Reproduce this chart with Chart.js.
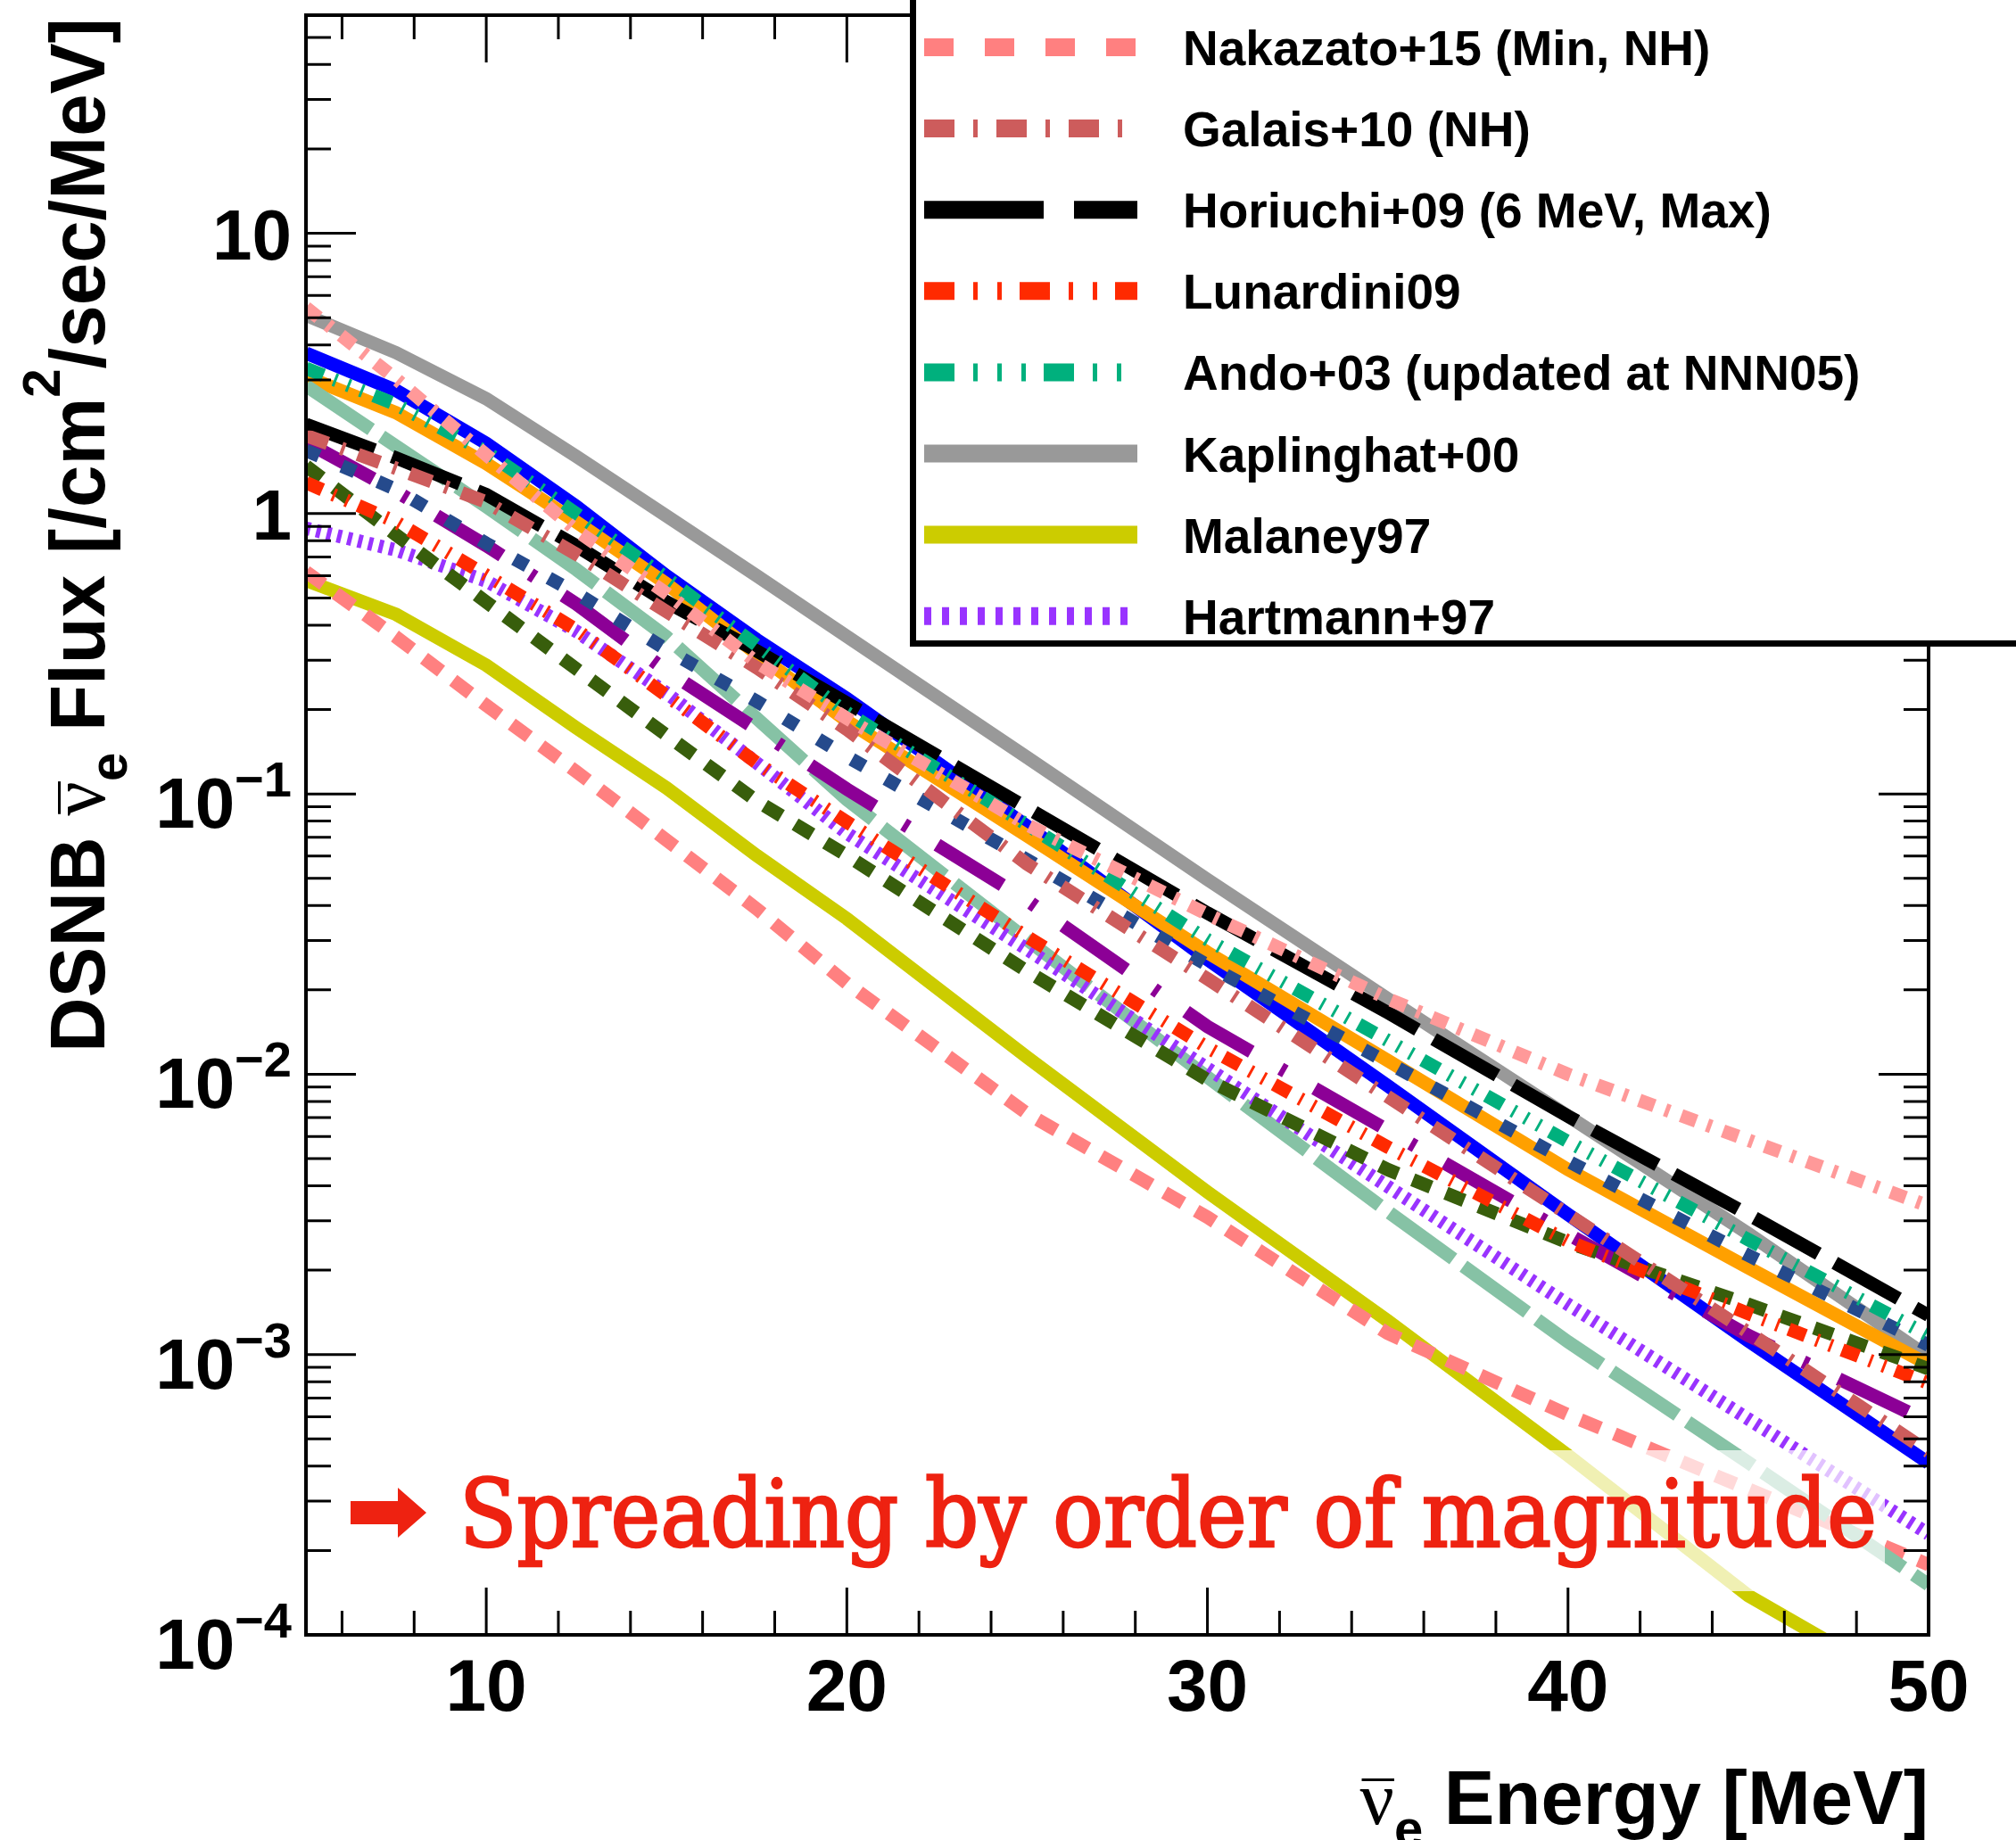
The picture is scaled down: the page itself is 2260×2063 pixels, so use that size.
<!DOCTYPE html>
<html>
<head>
<meta charset="utf-8">
<script src="https://cdn.jsdelivr.net/npm/chart.js@4.4.0/dist/chart.umd.min.js"></script>
<style>
  html, body { margin: 0; padding: 0; background: #fff; }
  canvas { display: block; }
</style>
</head>
<body>
<canvas id="dsnb-chart" width="2260" height="2063"></canvas>
<script>
const energy = [5, 7.5, 10, 12.5, 15, 17.5, 20, 25, 30, 35, 40, 45, 50]

// flux [/cm2/sec/MeV]
const nakazatoMin = [0.62, 0.363, 0.207, 0.12, 0.0684, 0.0389, 0.0211, 0.00724, 0.00309, 0.00119, 0.00061, 0.000331, 0.000178]
const galais = [1.9, 1.45, 1.1, 0.716, 0.447, 0.282, 0.17, 0.0562, 0.0219, 0.00832, 0.00316, 0.0012, 0.00045]
const horiuchi = [2.08, 1.58, 1.17, 0.767, 0.484, 0.324, 0.211, 0.0891, 0.0376, 0.0166, 0.00708, 0.00316, 0.00138]
const lunardini = [1.29, 0.933, 0.603, 0.385, 0.224, 0.129, 0.0794, 0.0309, 0.01245, 0.0055, 0.00254, 0.0014, 0.00079]
const ando = [3.3, 2.45, 1.66, 1.0, 0.589, 0.339, 0.195, 0.0776, 0.0302, 0.0132, 0.00575, 0.00257, 0.00117]
const kaplinghat = [5.1, 3.75, 2.57, 1.6, 0.98, 0.6, 0.365, 0.135, 0.0495, 0.0186, 0.0071, 0.0027, 0.00098]
const malaney = [0.578, 0.437, 0.288, 0.172, 0.105, 0.0603, 0.0359, 0.0115, 0.0038, 0.00132, 0.000437, 0.000138, 0.0000589]
const hartmann = [0.887, 0.741, 0.575, 0.38, 0.229, 0.129, 0.0724, 0.0279, 0.0105, 0.00398, 0.00151, 0.000589, 0.000229]
// curves that are in the plot but not in the visible part of the legend
const otherBlue = [3.74, 2.75, 1.78, 1.06, 0.6, 0.355, 0.219, 0.0767, 0.0257, 0.0091, 0.00316, 0.00112, 0.00041]
const otherOrange = [3.08, 2.29, 1.51, 0.933, 0.562, 0.316, 0.182, 0.0708, 0.0272, 0.0112, 0.00457, 0.00204, 0.00092]
const otherTeal = [2.86, 1.74, 1.06, 0.631, 0.363, 0.186, 0.0955, 0.0302, 0.00977, 0.00324, 0.00111, 0.000412, 0.000151]
const otherPurple = [1.8, 1.2, 0.769, 0.476, 0.275, 0.17, 0.104, 0.0417, 0.0148, 0.00631, 0.00269, 0.00117, 0.000575]
const otherDarkBlue = [1.68, 1.22, 0.783, 0.52, 0.327, 0.214, 0.136, 0.0582, 0.0245, 0.011, 0.0049, 0.00226, 0.00108]
const otherDarkGreen = [1.48, 0.839, 0.484, 0.279, 0.162, 0.0944, 0.0603, 0.0233, 0.00955, 0.00457, 0.00251, 0.00151, 0.00089]
const otherPink = [5.43, 3.02, 1.62, 0.871, 0.519, 0.295, 0.186, 0.0776, 0.0372, 0.0186, 0.01, 0.00582, 0.00339]

const xMajorTicks = [10, 20, 30, 40, 50]
const yExponents = [-4, -3, -2, -1, 0, 1]

const legendNames = ['Nakazato+15 (Min, NH)', 'Galais+10 (NH)', 'Horiuchi+09 (6 MeV, Max)', 'Lunardini09',
  'Ando+03 (updated at NNN05)', 'Kaplinghat+00', 'Malaney97', 'Hartmann+97']
const legendColors = ['#FF8080', '#CD5C5C', '#000000', '#FF2A00', '#00B07D', '#999999', '#CCCC00', '#9933FF']
const legendDashes = [[33, 35], [34, 21, 5, 21], [134, 34], [34, 21, 5, 22, 5, 20],
  [34, 21, 5, 22, 5, 22, 5, 20], [], [], [8, 12]]

const SANS = '"Liberation Sans", Arial, Helvetica, sans-serif'
const SERIF = '"Liberation Serif", "Times New Roman", serif'

// first one is drawn on top
const curves = [
  { label: 'other (light pink)', y: otherPink, color: '#FF9999', dash: [18, 13, 5, 14] },
  { label: legendNames[1], y: galais, color: legendColors[1], dash: [26, 16, 4, 16] },
  { label: legendNames[4], y: ando, color: legendColors[4], dash: [21, 13, 3, 13, 3, 13, 3, 13] },
  { label: legendNames[3], y: lunardini, color: legendColors[3], dash: [20, 13, 3, 13, 3, 12] },
  { label: 'other (dark green)', y: otherDarkGreen, color: '#385E0C', dash: [22, 18] },
  { label: 'other (dark blue)', y: otherDarkBlue, color: '#254A8C', dash: [16, 28] },
  { label: legendNames[2], y: horiuchi, color: legendColors[2], dash: [82, 21] },
  { label: 'other (purple)', y: otherPurple, color: '#8C0096', dash: [86, 38, 6, 38] },
  { label: legendNames[7], y: hartmann, color: legendColors[7], dash: [5, 7] },
  { label: 'other (teal)', y: otherTeal, color: '#86C2A5', dash: [88, 14] },
  { label: 'other (orange)', y: otherOrange, color: '#FFA000', dash: [] },
  { label: 'other (blue)', y: otherBlue, color: '#0000FF', dash: [] },
  { label: legendNames[0], y: nakazatoMin, color: legendColors[0], dash: [24, 17] },
  { label: legendNames[6], y: malaney, color: legendColors[6], dash: [] },
  { label: legendNames[5], y: kaplinghat, color: legendColors[5], dash: [] },
]

function partsWidth(ctx, parts) {
  let w = 0
  parts.forEach(p => { ctx.font = p.font; w += ctx.measureText(p.text).width })
  return w
}

function drawParts(ctx, parts, x, y) {
  parts.forEach(p => {
    ctx.font = p.font
    const w = ctx.measureText(p.text).width
    ctx.fillText(p.text, x, y + (p.dy || 0))
    if (p.over) ctx.fillRect(x + 2, y - p.over, w - 2, 3)
    x += w
  })
}

const decor = {
  id: 'decor',
  afterDatasetsDraw(chart) {
    const ctx = chart.ctx
    const xs = chart.scales.x
    const ys = chart.scales.y
    const a = chart.chartArea
    ctx.save()

    // faded box behind the note
    ctx.fillStyle = 'rgba(255,255,255,0.7)'
    ctx.fillRect(380, 1626, 2113 - 380, 1784 - 1626)
    ctx.fillStyle = '#EE2211'
    ctx.beginPath()
    ctx.moveTo(393, 1683); ctx.lineTo(446, 1683); ctx.lineTo(446, 1668); ctx.lineTo(478, 1696)
    ctx.lineTo(446, 1724); ctx.lineTo(446, 1709); ctx.lineTo(393, 1709); ctx.closePath()
    ctx.fill()
    const note = 'Spreading by order of magnitude'
    ctx.font = '104px "DejaVu Serif Condensed", "DejaVu Serif", serif'
    const nw = ctx.measureText(note).width
    ctx.save()
    ctx.translate(515, 1734)
    ctx.scale(1589 / nw, 1)
    ctx.textAlign = 'left'
    ctx.textBaseline = 'alphabetic'
    ctx.strokeStyle = '#EE2211'
    ctx.lineWidth = 2.5
    ctx.fillText(note, 0, 0)
    ctx.strokeText(note, 0, 0)
    ctx.restore()

    // ticks, inside the frame on all four sides
    ctx.strokeStyle = '#000'
    ctx.lineWidth = 3
    ctx.setLineDash([])
    ctx.beginPath()
    for (let v = 6; v <= 50; v += 2) {
      const px = xs.getPixelForValue(v)
      const len = xMajorTicks.includes(v) ? 53 : 27
      ctx.moveTo(px, a.bottom); ctx.lineTo(px, a.bottom - len)
      ctx.moveTo(px, a.top); ctx.lineTo(px, a.top + len)
    }
    for (let e = -4; e <= 1; e++) {
      for (let k = 1; k <= 9; k++) {
        const v = k * Math.pow(10, e)
        if (v > ys.max) break
        const py = ys.getPixelForValue(v)
        const len = k === 1 ? 56 : 28
        ctx.moveTo(a.left, py); ctx.lineTo(a.left + len, py)
        ctx.moveTo(a.right, py); ctx.lineTo(a.right - len, py)
      }
    }
    ctx.stroke()

    // frame
    ctx.lineWidth = 4
    ctx.strokeRect(a.left, a.top, a.right - a.left, a.bottom - a.top)

    // tick labels
    ctx.fillStyle = '#000'
    ctx.textBaseline = 'alphabetic'
    ctx.textAlign = 'center'
    ctx.font = `bold 82px ${SANS}`
    xMajorTicks.forEach(v => ctx.fillText(String(v), xs.getPixelForValue(v), 1918))
    ctx.textAlign = 'left'
    yExponents.forEach(e => {
      const py = ys.getPixelForValue(Math.pow(10, e))
      let parts
      if (e === 0) parts = [{ text: '1', font: `bold 80px ${SANS}`, dy: 29 }]
      else if (e === 1) parts = [{ text: '10', font: `bold 80px ${SANS}`, dy: 29 }]
      else parts = [{ text: '10', font: `bold 80px ${SANS}`, dy: 38 },
        { text: '\u2212' + (-e), font: `bold 56px ${SANS}`, dy: 3 }]
      drawParts(ctx, parts, 327 - partsWidth(ctx, parts), py)
    })

    // axis titles
    const xTitle = [
      { text: '\u03bd', font: `85px ${SERIF}`, over: 51 },
      { text: 'e', font: `bold 58px ${SANS}`, dy: 25 },
      { text: ' Energy [MeV]', font: `bold 85px ${SANS}` },
    ]
    drawParts(ctx, xTitle, 2162 - partsWidth(ctx, xTitle), 2045)

    const yTitle = [
      { text: 'DSNB ', font: `bold 88px ${SANS}` },
      { text: '\u03bd', font: `88px ${SERIF}`, over: 52 },
      { text: 'e', font: `bold 60px ${SANS}`, dy: 25 },
      { text: ' Flux [/cm', font: `bold 88px ${SANS}` },
      { text: '2', font: `bold 60px ${SANS}`, dy: -50 },
      { text: '/sec/MeV]', font: `bold 88px ${SANS}` },
    ]
    const tw = partsWidth(ctx, yTitle)
    ctx.save()
    ctx.translate(117, 1180)
    ctx.rotate(-Math.PI / 2)
    ctx.scale(1160 / tw, 1)
    drawParts(ctx, yTitle, 0, 0)
    ctx.restore()

    // legend box
    ctx.fillStyle = '#fff'
    ctx.fillRect(1020, -20, 1300, 745)
    ctx.strokeStyle = '#000'
    ctx.lineWidth = 7
    ctx.strokeRect(1023.5, -20, 1300, 741.5)
    legendNames.forEach((name, i) => {
      const y = 53 + i * 91.1
      ctx.strokeStyle = legendColors[i]
      ctx.lineWidth = 20
      ctx.lineCap = 'butt'
      ctx.setLineDash(legendDashes[i])
      ctx.beginPath()
      ctx.moveTo(1036, y); ctx.lineTo(1275, y)
      ctx.stroke()
      ctx.setLineDash([])
      ctx.fillStyle = '#000'
      ctx.font = `bold 55px ${SANS}`
      ctx.fillText(name, 1326, y + 20)
    })

    ctx.restore()
  }
}

new Chart(document.getElementById('dsnb-chart'), {
  type: 'line',
  data: {
    datasets: curves.map(c => ({
      label: c.label,
      data: energy.map((e, i) => ({ x: e, y: c.y[i] })),
      borderColor: c.color,
      borderWidth: 15,
      borderDash: c.dash,
      borderCapStyle: 'butt',
      pointRadius: 0,
      tension: 0,
      fill: false,
      clip: 0,
    }))
  },
  options: {
    responsive: false,
    devicePixelRatio: 1,
    animation: false,
    layout: { padding: { left: 343, right: 98, top: 17, bottom: 230 } },
    scales: {
      x: { type: 'linear', min: 5, max: 50, display: false },
      y: { type: 'logarithmic', min: 1e-4, max: 60, display: false },
    },
    plugins: {
      legend: { display: false },
      tooltip: { enabled: false },
    },
  },
  plugins: [decor],
})
</script>
</body>
</html>
